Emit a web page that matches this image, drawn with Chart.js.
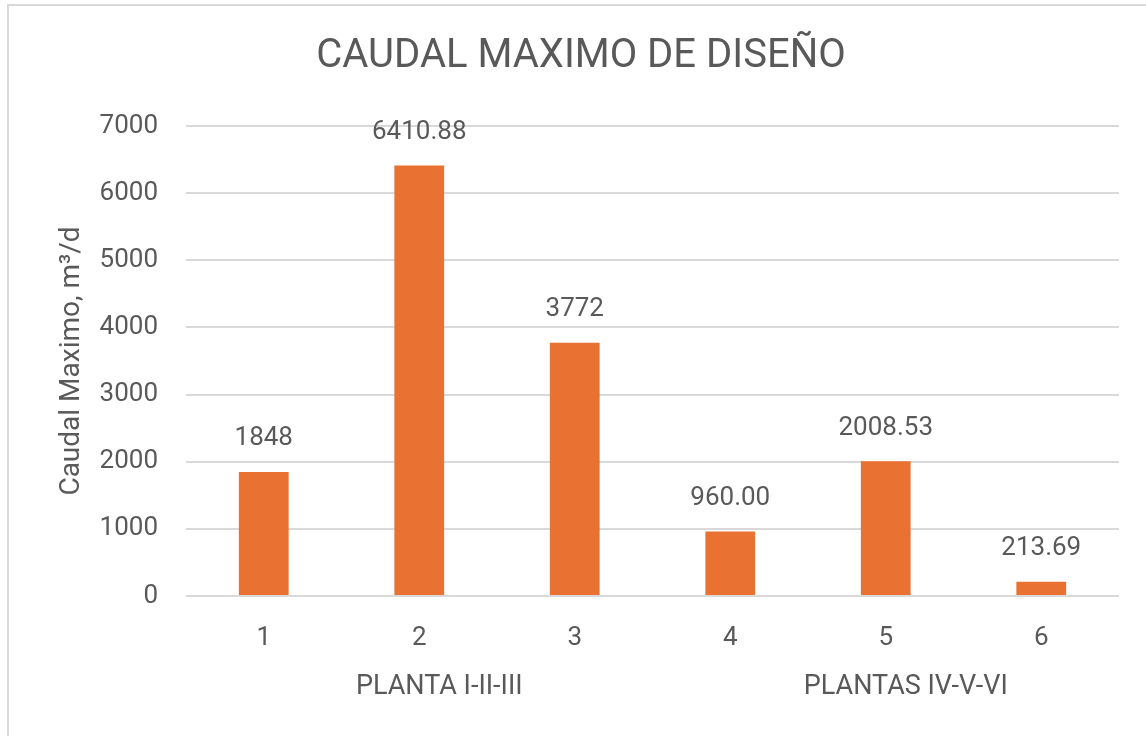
<!DOCTYPE html>
<html>
<head>
<meta charset="utf-8">
<script src="https://cdn.jsdelivr.net/npm/chart.js@4.4.0/dist/chart.umd.min.js"></script>
<style>
  html, body { margin: 0; padding: 0; background: #fff; }
</style>
</head>
<body>
<canvas id="caudalChart" width="1146" height="736"></canvas>
<script>
const categories = ['1', '2', '3', '4', '5', '6'];
const caudalMax = [1848, 6410.88, 3772, 960.00, 2008.53, 213.69];
const valueLabels = ['1848', '6410.88', '3772', '960.00', '2008.53', '213.69'];
const groupNames = ['PLANTA I-II-III', 'PLANTAS IV-V-VI'];
const groupFirst = [0, 3];
const groupLast = [2, 5];

const textColor = '#595959';
const gridColor = '#d9d9d9';

// frame + value labels + group labels
const extras = {
  id: 'extras',
  beforeDraw(chart) {
    const ctx = chart.ctx;
    ctx.save();
    ctx.strokeStyle = gridColor;
    ctx.lineWidth = 2;
    ctx.beginPath();
    ctx.moveTo(8, chart.height);
    ctx.lineTo(8, 5);
    ctx.lineTo(chart.width, 5);
    ctx.stroke();
    ctx.restore();
  },
  afterDatasetsDraw(chart) {
    const ctx = chart.ctx;
    const meta = chart.getDatasetMeta(0);
    ctx.save();
    ctx.font = '26px Roboto';
    ctx.fillStyle = textColor;
    ctx.textAlign = 'center';
    ctx.textBaseline = 'middle';
    meta.data.forEach((bar, i) => {
      ctx.fillText(valueLabels[i], bar.x, bar.y - 33);
    });
    ctx.font = '27px Roboto';
    const xs = chart.scales.x;
    groupNames.forEach((g, i) => {
      const cx = (xs.getPixelForValue(groupFirst[i]) + xs.getPixelForValue(groupLast[i])) / 2 + 20;
      ctx.fillText(g, cx, 687);
    });
    ctx.restore();
  }
};

new Chart(document.getElementById('caudalChart'), {
  type: 'bar',
  data: {
    labels: categories,
    datasets: [{
      label: 'Caudal Maximo',
      data: caudalMax,
      backgroundColor: '#E97132',
      barPercentage: 1,
      categoryPercentage: 0.32
    }]
  },
  options: {
    responsive: false,
    animation: false,
    layout: { padding: { left: 43, right: 27, top: 0, bottom: 0 } },
    plugins: {
      legend: { display: false },
      tooltip: { enabled: false },
      title: {
        display: true,
        text: 'CAUDAL MAXIMO DE DISEÑO',
        color: textColor,
        font: { family: 'Roboto', size: 40, weight: 'normal' },
        padding: { top: 33, bottom: 45 }
      }
    },
    scales: {
      x: {
        grid: { display: false },
        border: { display: false },
        ticks: { color: textColor, font: { family: 'Roboto', size: 26 }, padding: 19 },
        afterFit(scale) { scale.height = 140; }
      },
      y: {
        min: 0,
        max: 7000,
        ticks: {
          stepSize: 1000,
          color: textColor,
          font: { family: 'Roboto', size: 26 },
          padding: 28,
          callback: (v) => String(v)
        },
        grid: { color: gridColor, lineWidth: 2, drawTicks: false },
        border: { display: false },
        title: {
          display: true,
          text: 'Caudal Maximo, m³/d',
          color: textColor,
          font: { family: 'Roboto', size: 28 },
          padding: { top: 12, bottom: 0 }
        },
        afterFit(scale) { scale.width = 143; }
      }
    }
  },
  plugins: [extras]
});
</script>
</body>
</html>
